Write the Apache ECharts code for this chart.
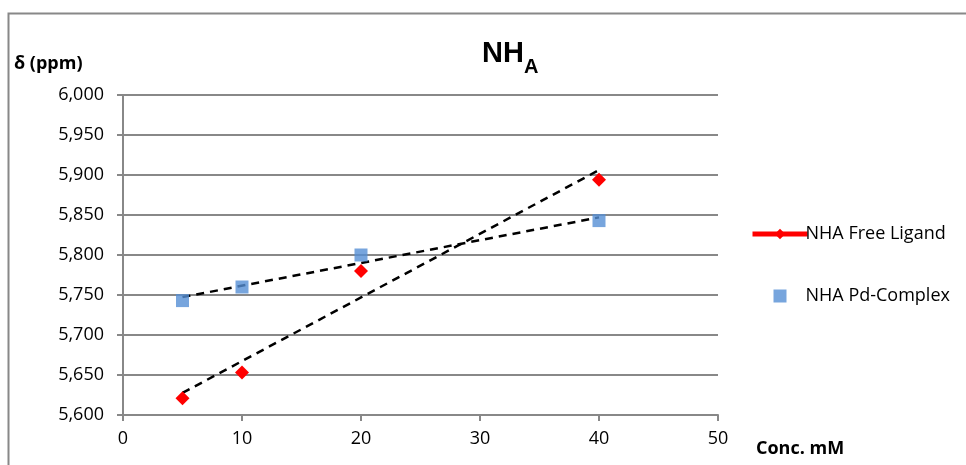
<!DOCTYPE html>
<html>
<head>
<meta charset="utf-8">
<script src="https://cdn.jsdelivr.net/npm/echarts@6/dist/echarts.min.js"></script>
<style>
html,body{margin:0;padding:0;background:#fff;}
#chart{width:966px;height:465px;}
</style>
</head>
<body>
<div id="chart"></div>
<script>
// Data
var concentrations = [5, 10, 20, 40];
var freeLigand = [5.621, 5.653, 5.780, 5.894];
var pdComplex = [5.743, 5.760, 5.800, 5.843];
var xTicks = [0, 10, 20, 30, 40, 50];
var yTicks = [5.600, 5.650, 5.700, 5.750, 5.800, 5.850, 5.900, 5.950, 6.000];
var seriesNames = ['NHA Free Ligand', 'NHA Pd-Complex'];

function pairs(xs, ys) { return xs.map(function (x, i) { return [x, ys[i]]; }); }
function trend(xs, ys) {
  var n = xs.length, mx = 0, my = 0;
  xs.forEach(function (x, i) { mx += x; my += ys[i]; });
  mx /= n; my /= n;
  var sxx = 0, sxy = 0;
  xs.forEach(function (x, i) { sxx += (x - mx) * (x - mx); sxy += (x - mx) * (ys[i] - my); });
  var b = sxy / sxx, a = my - b * mx;
  var x0 = xs[0], x1 = xs[n - 1];
  return [[x0, a + b * x0], [x1, a + b * x1]];
}

var FONT = 'Open Sans';
var chart = echarts.init(document.getElementById('chart'));
chart.setOption({
  animation: false,
  textStyle: { fontFamily: FONT },
  title: {
    text: '{a|NH}{b|A}',
    left: 477, top: 29,
    textStyle: {
      rich: {
        a: { fontFamily: 'Liberation Sans', fontWeight: 'bold', fontSize: 29, color: '#000', verticalAlign: 'bottom', lineHeight: 34 },
        b: { fontFamily: 'Liberation Sans', fontWeight: 'bold', fontSize: 20, color: '#000', verticalAlign: 'bottom', lineHeight: 34, padding: [0, 0, -9, 0] }
      }
    }
  },
  graphic: [
    { type: 'rect', left: 6, top: 11, silent: true, z: -1,
      shape: { width: 1000, height: 500 }, style: { fill: 'none', stroke: '#888', lineWidth: 2 } },
    { type: 'text', left: 14, top: 55, style: { text: 'δ (ppm)', font: 'bold 18px "' + FONT + '"', fill: '#000' } },
    { type: 'text', left: 756, top: 440, style: { text: 'Conc. mM', font: 'bold 18px "' + FONT + '"', fill: '#000' } }
  ],
  legend: {
    orient: 'vertical', left: 745, top: 220,
    itemWidth: 55, itemHeight: 13, itemGap: 44,
    textStyle: { fontSize: 18, color: '#000', fontFamily: FONT, padding: [0, 0, 0, -7] },
    data: [
      { name: seriesNames[0], lineStyle: { opacity: 1, width: 5, color: '#ff0000' } },
      { name: seriesNames[1], icon: 'path://M0,0h10v10h-10z', itemStyle: { color: '#558ED5' } }
    ]
  },
  grid: { left: 123, right: 248, top: 95, bottom: 50 },
  xAxis: {
    type: 'value', min: xTicks[0], max: xTicks[xTicks.length - 1], interval: 10,
    axisLine: { lineStyle: { color: '#888', width: 2 } },
    axisTick: { show: true, length: 6, lineStyle: { color: '#888', width: 2 } },
    axisLabel: { fontSize: 18, color: '#000', margin: 15 },
    splitLine: { show: false }
  },
  yAxis: {
    type: 'value', min: yTicks[0], max: yTicks[yTicks.length - 1], interval: 0.05,
    axisLine: { show: true, lineStyle: { color: '#888', width: 2 } },
    axisTick: { show: true, length: 6, lineStyle: { color: '#888', width: 2 } },
    axisLabel: { fontSize: 18, color: '#000', margin: 19,
      formatter: function (v) { return v.toFixed(3).replace('.', ','); } },
    splitLine: { show: true, lineStyle: { color: '#888', width: 2 } }
  },
  series: [
    { name: seriesNames[0], type: 'line', data: pairs(concentrations, freeLigand),
      symbol: 'diamond', symbolSize: 14, itemStyle: { color: '#ff0000' },
      lineStyle: { width: 5, color: '#ff0000', opacity: 0 }, z: 5 },
    { name: seriesNames[1], type: 'scatter', data: pairs(concentrations, pdComplex),
      symbol: 'rect', symbolSize: 13, itemStyle: { color: '#558ED5' }, z: 5 },
    { name: 'trendFree', type: 'line', data: trend(concentrations, freeLigand), symbol: 'none', silent: true,
      lineStyle: { color: '#000', width: 2.5, type: [8, 6] }, z: 4 },
    { name: 'trendPd', type: 'line', data: trend(concentrations, pdComplex), symbol: 'none', silent: true,
      lineStyle: { color: '#000', width: 2.5, type: [8, 6] }, z: 4 }
  ]
});
</script>
</body>
</html>
